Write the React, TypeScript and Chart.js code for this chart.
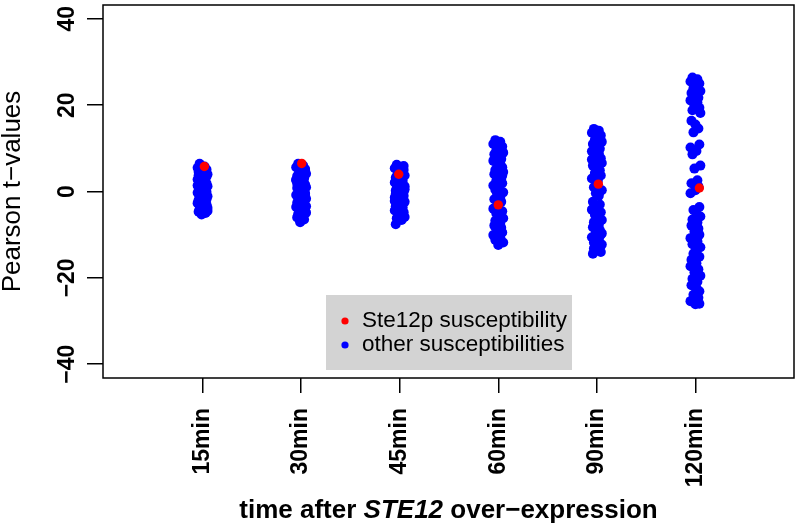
import React, { useEffect, useRef } from "react";
import { Chart, registerables } from "chart.js";

Chart.register(...registerables);

const categories = ["15min", "30min", "45min", "60min", "90min", "120min"];
const yTickValues = [-40, -20, 0, 20, 40];
const yTickLabels = ["\u221240", "\u221220", "0", "20", "40"];

// Ste12p susceptibility (red) per time point
const steValues = [5.8, 6.5, 4.0, -3.1, 1.7, 0.8];
const steJitter = [0.018, 0.006, -0.01, 0.0, 0.015, 0.04];

// other susceptibilities (blue) per time point
const other15 = [6.4, 5.8, 5.5, 5.1, 4.9, 4.3, 4.0, 3.7, 3.3, 3.1, 2.8, 2.4, 2.2, 1.9, 1.6, 1.2, 1.0, 0.7, 0.4, 0.2, -0.1, -0.3, -0.6, -0.9, -1.1, -1.4, -1.6, -2.0, -2.2, -2.5, -2.7, -3.0, -3.3, -3.5, -3.8, -4.1, -4.4, -4.7, -5.0, -5.3, 3.5, 1.4, -0.8, -2.9, -4.5, 0.9, 2.6, -1.8, 4.6, -3.9];
const other30 = [6.4, 6.0, 5.6, 5.2, 4.7, 4.5, 4.1, 3.6, 3.3, 3.0, 2.6, 2.3, 1.9, 1.6, 1.3, 1.0, 0.8, 0.4, 0.1, -0.2, -0.5, -0.8, -1.1, -1.3, -1.7, -2.0, -2.3, -2.6, -2.9, -3.2, -3.6, -3.9, -4.2, -4.5, -4.9, -5.2, -5.6, -6.0, -6.5, -7.1, 5.0, 2.8, 0.5, -1.5, -3.4, -5.4, 3.9, -0.6, 1.8, -2.7];
const other45 = [6.2, 5.7, 5.4, 5.0, 4.5, 4.1, 3.7, 3.2, 2.9, 2.5, 2.1, 1.8, 1.4, 1.1, 0.8, 0.5, 0.2, -0.1, -0.4, -0.8, -1.0, -1.4, -1.7, -2.0, -2.4, -2.7, -3.1, -3.4, -3.7, -4.1, -4.4, -4.8, -5.1, -5.5, -5.9, -6.2, -6.6, -7.6, 4.8, 2.3, 0.0, -2.2, -4.6, 3.5, 1.2, -1.2, -3.0, 5.9, -0.6, -5.3];
const other60 = [11.9, 11.5, 11.0, 10.4, 10.1, 9.5, 9.0, 8.6, 8.0, 7.5, 7.1, 6.5, 6.0, 5.6, 5.0, 4.5, 4.0, 3.4, 2.9, 2.5, 1.9, 1.4, 0.9, 0.4, -0.2, -0.7, -1.3, -1.8, -2.4, -3.5, -4.0, -4.6, -5.1, -5.7, -6.2, -6.8, -7.3, -7.9, -8.4, -9.0, -9.5, -10.1, -10.6, -11.2, -11.8, -12.4, 10.7, 3.7, -3.9, -8.7];
const other90 = [14.5, 14.1, 13.6, 13.0, 12.6, 12.0, 11.5, 11.0, 10.4, 9.9, 9.3, 8.8, 8.2, 7.7, 7.1, 6.6, 6.0, 5.5, 4.9, 4.3, 3.7, 3.0, 2.5, 1.0, 0.3, -0.4, -1.0, -2.4, -3.0, -3.6, -4.2, -4.8, -5.4, -6.0, -6.6, -7.1, -7.7, -8.3, -8.9, -9.4, -10.0, -10.6, -11.2, -11.8, -12.3, -12.9, -13.5, -14.0, -14.4, 13.3, 7.4, 0.0, -5.1, -9.7, -13.2];
const other120 = [26.4, 26.0, 25.5, 25.0, 24.4, 23.9, 23.3, 22.8, 22.2, 21.7, 21.1, 20.6, 20.0, 19.4, 18.8, 18.2, 16.4, 15.5, 14.6, 13.7, 10.9, 10.2, 9.4, 8.6, 6.0, 5.3, 2.6, 1.9, 1.2, 0.3, -0.4, -3.6, -4.3, -5.0, -5.8, -6.5, -7.2, -7.9, -8.6, -9.3, -10.0, -10.8, -11.5, -12.2, -12.9, -13.7, -14.4, -15.1, -15.8, -16.6, -17.3, -18.0, -18.7, -19.5, -20.2, -20.9, -21.7, -22.4, -23.1, -23.9, -24.6, -25.4, -26.1, -26.0];
const otherGroups = [other15, other30, other45, other60, other90, other120];

// horizontal jitter of the strip chart (category units)
const jitter = [-0.03, 0.02, -0.05, 0.04, 0.0, -0.02, 0.05, -0.04, 0.01, 0.03, -0.05, 0.02, -0.01, 0.04, -0.03, 0.05, -0.04, 0.0, 0.03, -0.02, 0.04, -0.05, 0.01, -0.03, 0.05, -0.01, 0.02, -0.04, 0.03, 0.0, -0.05, 0.04, -0.02, 0.01, 0.05, -0.03, 0.02, -0.04, 0.03, -0.01, 0.04, -0.05, 0.02, -0.03, 0.05, 0.0, -0.02, 0.04, -0.04, 0.01, -0.05, 0.03, -0.01, 0.05, -0.03, 0.02, -0.04, 0.01, 0.04, -0.02, 0.03, -0.05, 0.0, 0.04];

const legendLabels = ["Ste12p susceptibility", "other susceptibilities"];
const FONT = "'Liberation Sans', Arial, Helvetica, sans-serif";

export default function App() {
  const ref = useRef<HTMLCanvasElement | null>(null);

  useEffect(() => {
    document.body.style.margin = "0";
    const canvas = ref.current;
    if (!canvas) return;

    const bluePts: { x: number; y: number }[] = [];
    otherGroups.forEach((arr, gi) => {
      arr.forEach((v, i) => {
        bluePts.push({ x: gi + 1 + jitter[i % jitter.length], y: v });
      });
    });
    const redPts = steValues.map((v, i) => ({ x: i + 1 + steJitter[i], y: v }));

    const decor = {
      id: "decor",
      afterDraw(chart: any) {
        const { ctx, chartArea } = chart;
        const ys = chart.scales.y;
        ctx.save();
        // box
        ctx.strokeStyle = "#000";
        ctx.lineWidth = 1.5;
        ctx.strokeRect(chartArea.left, chartArea.top, chartArea.right - chartArea.left, chartArea.bottom - chartArea.top);

        // y tick labels (rotated, parallel to axis)
        ctx.fillStyle = "#000";
        ctx.font = `bold 23px ${FONT}`;
        ctx.textAlign = "center";
        ctx.textBaseline = "alphabetic";
        yTickValues.forEach((v, i) => {
          const py = ys.getPixelForValue(v);
          ctx.save();
          ctx.translate(chartArea.left - 29, py);
          ctx.rotate(-Math.PI / 2);
          ctx.fillText(yTickLabels[i], 0, 0);
          ctx.restore();
        });

        // y title
        ctx.save();
        ctx.font = `26px ${FONT}`;
        ctx.translate(20, (chartArea.top + chartArea.bottom) / 2);
        ctx.rotate(-Math.PI / 2);
        ctx.fillText("Pearson t\u2212values", 0, 0);
        ctx.restore();

        // x title with italic gene name
        const parts = [
          { t: "time after ", f: `bold 26px ${FONT}` },
          { t: "STE12", f: `italic bold 26px ${FONT}` },
          { t: " over\u2212expression", f: `bold 26px ${FONT}` },
        ];
        let total = 0;
        parts.forEach((p) => {
          ctx.font = p.f;
          total += ctx.measureText(p.t).width;
        });
        let x = (chartArea.left + chartArea.right) / 2 - total / 2;
        ctx.textAlign = "left";
        parts.forEach((p) => {
          ctx.font = p.f;
          ctx.fillText(p.t, x, 518);
          x += ctx.measureText(p.t).width;
        });

        // legend
        ctx.fillStyle = "#d3d3d3";
        ctx.fillRect(326, 295, 246, 75);
        const cols = ["#FF0000", "#0000FF"];
        ctx.font = `22.5px ${FONT}`;
        ctx.textBaseline = "middle";
        legendLabels.forEach((lab, i) => {
          const ly = 321 + i * 24;
          ctx.fillStyle = cols[i];
          ctx.beginPath();
          ctx.arc(345, ly, 3.6, 0, Math.PI * 2);
          ctx.fill();
          ctx.fillStyle = "#000";
          ctx.fillText(lab, 362, ly);
        });
        ctx.restore();
      },
    };

    const chart = new Chart(canvas, {
      type: "scatter",
      data: {
        datasets: [
          {
            label: legendLabels[0],
            data: redPts,
            backgroundColor: "#FF0000",
            pointRadius: 4.7,
            pointBorderWidth: 0,
            borderWidth: 0,
          },
          {
            label: legendLabels[1],
            data: bluePts,
            backgroundColor: "#0000FF",
            pointRadius: 5.0,
            pointBorderWidth: 0,
            borderWidth: 0,
          },
        ],
      },
      options: {
        responsive: false,
        animation: false,
        layout: { padding: { top: 2, right: 4, left: 0, bottom: 0 } },
        plugins: { legend: { display: false }, tooltip: { enabled: false } },
        scales: {
          x: {
            type: "linear",
            min: -0.01,
            max: 7.0,
            afterBuildTicks: (s: any) => {
              s.ticks = categories.map((_, i) => ({ value: i + 1 }));
            },
            afterFit: (s: any) => {
              s.height = 151;
            },
            grid: { drawOnChartArea: false, drawTicks: true, tickLength: 15, color: "#000", lineWidth: 1.5 },
            border: { display: false },
            ticks: {
              autoSkip: false,
              minRotation: 90,
              maxRotation: 90,
              padding: 15,
              color: "#000",
              font: { family: FONT, size: 23, weight: "bold" },
              callback: (v: any) => categories[Math.round(v) - 1] ?? "",
            },
          },
          y: {
            type: "linear",
            min: -43.2,
            max: 43.2,
            afterBuildTicks: (s: any) => {
              s.ticks = yTickValues.map((v) => ({ value: v }));
            },
            afterFit: (s: any) => {
              s.width = 103;
            },
            grid: { drawOnChartArea: false, drawTicks: true, tickLength: 16, color: "#000", lineWidth: 1.5 },
            border: { display: false },
            ticks: { display: false },
          },
        },
      },
      plugins: [decor],
    } as any);

    return () => chart.destroy();
  }, []);

  return (
    <div style={{ position: "absolute", left: 0, top: 0, width: 799, height: 529 }}>
      <canvas ref={ref} width={799} height={529} style={{ display: "block" }} />
    </div>
  );
}
